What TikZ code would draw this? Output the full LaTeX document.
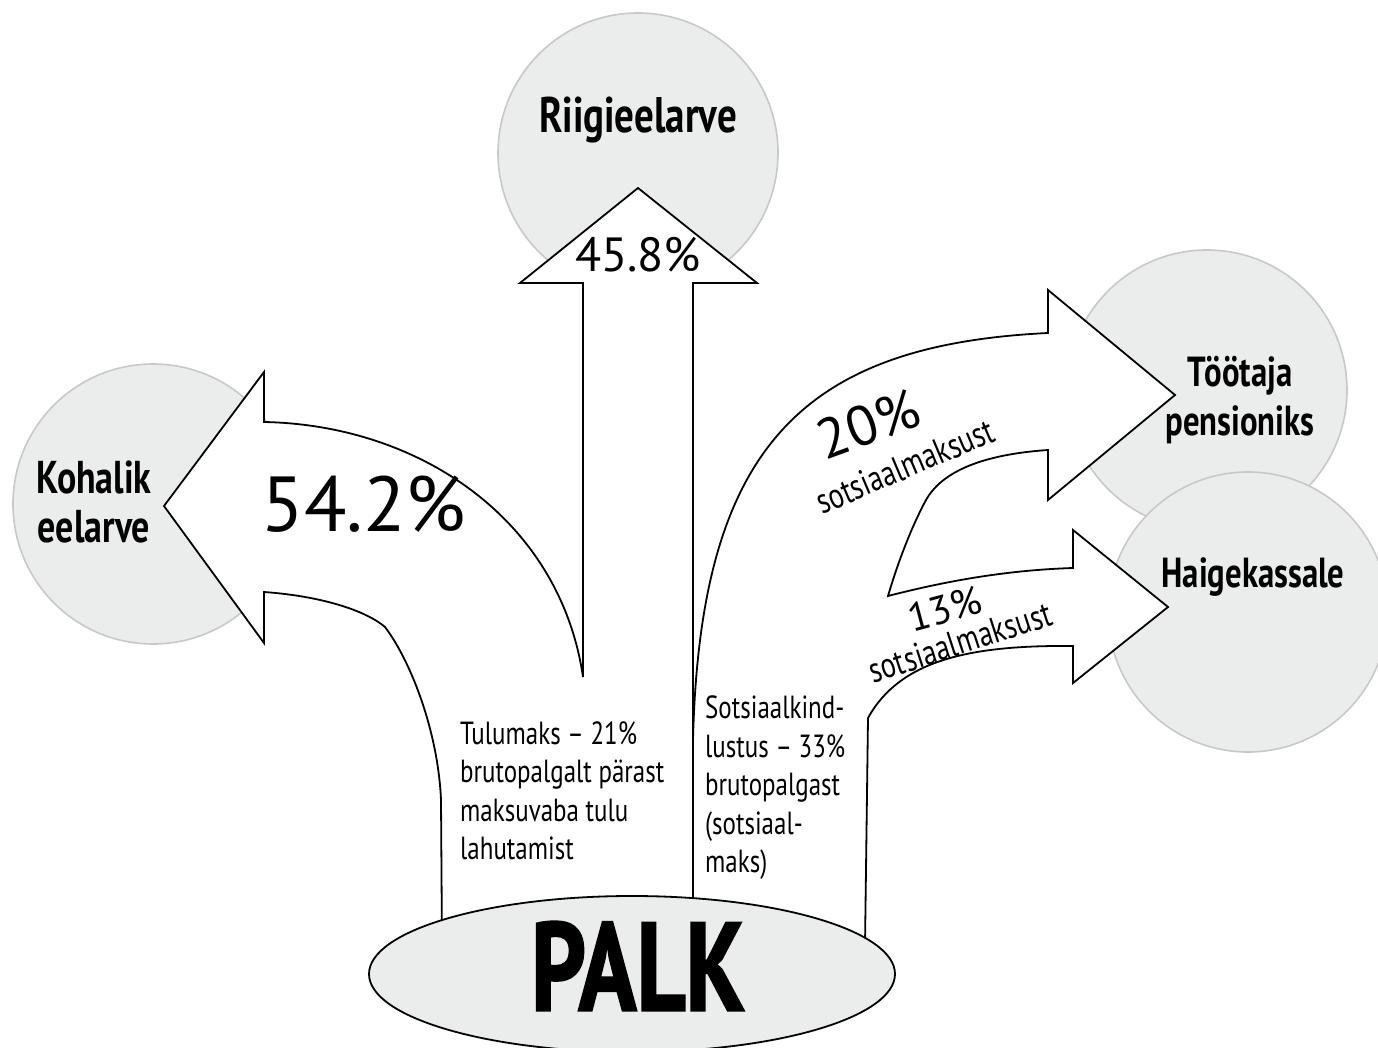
\documentclass[tikz,border=0pt]{standalone}
\usepackage{fontspec}
\setmainfont{PT Sans}
\newfontfamily\condf{PT Sans}[FakeStretch=0.78]
\newfontfamily\palkf{PT Sans}[FakeStretch=0.76,BoldFeatures={FakeBold=1.5}]
\usetikzlibrary{shapes.geometric}
\usetikzlibrary{positioning}
\definecolor{circgray}{HTML}{EBECEC}
\definecolor{rimgray}{HTML}{C8C8C8}

\begin{document}
\begin{tikzpicture}[x=1pt, y=-1pt,
	circ/.style={draw=rimgray, line width=1.6pt, fill=circgray, circle, minimum size=280pt, inner sep=0pt},
	flow/.style={draw=black, line width=1.8pt, fill=white, line join=miter},
	dest/.style={font=\condf\bfseries\fontsize{#1}{49}\selectfont, align=center, inner sep=0pt},
	pct/.style={font=\fontsize{#1}{#1}\selectfont, inner sep=0pt},
	soc/.style={font=\condf\fontsize{36}{36}\selectfont, inner sep=0pt},
	note/.style={font=\condf\fontsize{32}{38.5}\selectfont, align=left, inner sep=0pt, anchor=north west}]
	\useasboundingbox (0,0) rectangle (1378,1048);
	% sihtkohad
	\node[circ] (riigi) at (638,153) {};
	\node[circ] (kohalik) at (153,504) {};
	\node[circ] (pension) at (1207,390) {};
	\node[circ] (haige) at (1248,612) {};
	% tulumaks
	\draw[flow] (442,945) -- (441,800) .. controls (438,730) and (410,660) .. (385,627)
		.. controls (365,610) and (320,596) .. (264,592) -- (264,643) -- (164,506) -- (264,372)
		-- (264,422) .. controls (420,425) and (560,520) .. (583,677) -- (583,283) -- (520,283)
		-- (638,188) -- (757,283) -- (693,283) -- (693,945) -- cycle;
	% sotsiaalmaks
	\draw[flow] (693,945) -- (693,740) .. controls (700,450) and (800,345) .. (1048,333)
		-- (1048,290) -- (1175,395) -- (1048,500) -- (1048,450)
		.. controls (975,455) and (940,475) .. (926,500) .. controls (915,520) and (900,555) .. (888,596)
		.. controls (950,580) and (1010,570) .. (1073,568) -- (1073,530) -- (1168,607) -- (1073,683)
		-- (1073,646) .. controls (970,645) and (900,660) .. (868,718) -- (865,945) -- cycle;
	\node[draw, line width=1.8pt, fill=circgray, ellipse, minimum width=526pt, minimum height=156pt] (palk) at (632,974) {};
	\node[font=\palkf\bfseries\fontsize{126}{126}\selectfont, inner sep=0pt] (palktxt) at (638,966) {PALK};
	% tekstid
	\node[dest=50] (riigitxt) at (638,120) {Riigieelarve};
	\node[dest=46] (kohaliktxt) at (94,502) {Kohalik\\eelarve};
	\node[dest=42] (pensiontxt) at (1240,400) {Töötaja\\pensioniks};
	\node[dest=42] (haigetxt) at (1253,577) {Haigekassale};
	\node[pct=78] (p54) at (364,504) {54.2\%};
	\node[pct=48] (p45) at (638,255) {45.8\%};
	\node[pct=56, rotate=20] (p20) at (868,424) {20\%};
	\node[soc, rotate=23] (s20) at (905,466) {sotsiaalmaksust};
	\node[pct=40, rotate=15] (p13) at (945,609) {13\%};
	\node[soc, rotate=18] (s13) at (960,642) {sotsiaalmaksust};
	\node[note] (tulu) at (460,721) {Tulumaks – 21\%\\brutopalgalt pärast\\maksuvaba tulu\\lahutamist};
	\node[note] (sots) at (705,696) {Sotsiaalkind-\\lustus – 33\%\\brutopalgast\\(sotsiaal-\\maks)};
\end{tikzpicture}
\end{document}
